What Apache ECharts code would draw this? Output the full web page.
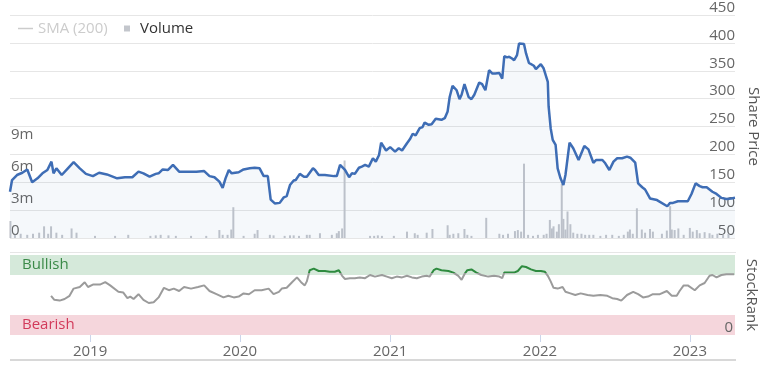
<!DOCTYPE html>
<html><head><meta charset="utf-8">
<script src="https://cdn.jsdelivr.net/npm/echarts@6/dist/echarts.min.js"></script>
<style>html,body{margin:0;padding:0;background:#fff}#c{width:762px;height:370px}</style>
</head><body><div id="c"></div>
<script>
// ---- Share price (top panel, right axis) ----
const priceDates = ['2018-06-20','2018-06-25','2018-07-07','2018-07-20','2018-08-01','2018-08-13','2018-08-26','2018-09-07','2018-09-19','2018-09-29','2018-10-04','2018-10-11','2018-10-24','2018-11-08','2018-11-22','2018-12-07','2018-12-22',
'2019-01-08','2019-01-23','2019-02-11','2019-03-08','2019-03-27','2019-04-14','2019-04-29','2019-05-11','2019-05-26','2019-06-10','2019-06-17','2019-06-27','2019-07-10','2019-07-22','2019-08-06','2019-08-23','2019-09-17','2019-10-06','2019-10-19','2019-10-31','2019-11-12','2019-11-20','2019-11-27','2019-12-05','2019-12-12','2019-12-29',
'2020-01-10','2020-01-25','2020-02-06','2020-02-18','2020-02-28','2020-03-09','2020-03-16','2020-03-26','2020-04-07','2020-04-17','2020-04-24','2020-05-02','2020-05-11','2020-05-16','2020-05-26','2020-06-05','2020-06-12','2020-06-27','2020-07-02','2020-07-11','2020-07-26','2020-08-17','2020-08-24','2020-09-01','2020-09-13','2020-09-23','2020-09-30','2020-10-07','2020-10-17','2020-10-24','2020-11-01','2020-11-10','2020-11-20','2020-11-27','2020-12-05','2020-12-10','2020-12-22',
'2021-01-01','2021-01-13','2021-01-22','2021-01-30','2021-02-11','2021-02-18','2021-02-25','2021-03-04','2021-03-14','2021-03-21','2021-03-26','2021-04-05','2021-04-12','2021-04-22','2021-05-06','2021-05-14','2021-05-21','2021-05-26','2021-06-02','2021-06-12','2021-06-19','2021-06-24','2021-07-01','2021-07-11','2021-07-18','2021-07-25','2021-08-06','2021-08-13','2021-08-21','2021-08-30','2021-09-07','2021-09-14','2021-09-24','2021-10-01','2021-10-06','2021-10-13','2021-10-18','2021-10-25','2021-10-30','2021-11-06','2021-11-11','2021-11-23','2021-11-28','2021-12-05','2021-12-17','2021-12-22',
'2022-01-03','2022-01-10','2022-01-20','2022-01-22','2022-01-27','2022-02-01','2022-02-08','2022-02-13','2022-02-20','2022-02-27','2022-03-04','2022-03-14','2022-03-23','2022-04-05','2022-04-19','2022-04-29','2022-05-11','2022-05-18','2022-06-02','2022-06-09','2022-06-19','2022-06-29','2022-07-08','2022-07-20','2022-08-01','2022-08-09','2022-08-21','2022-08-28','2022-09-07','2022-09-14','2022-09-26','2022-10-13','2022-11-07','2022-11-14','2022-11-21','2022-12-03','2022-12-27',
'2023-01-05','2023-01-15','2023-01-25','2023-02-01','2023-02-11','2023-02-25','2023-03-07','2023-03-19','2023-03-31','2023-04-12','2023-04-21'];
const priceValues = [133,154,163,167,173,150,157,166,172,187,166,175,163,175,186,175,165,
161,167,164,157,159,159,169,166,160,165,166,173,172,181,169,169,169,170,161,159,151,140,157,172,166,168,
173,175,176,175,161,161,119,112,113,123,125,145,153,154,165,160,160,175,172,163,163,161,161,181,172,159,166,165,176,178,181,178,193,187,199,221,207,
213,205,211,207,220,227,237,234,247,249,257,253,254,264,262,265,277,303,323,315,299,307,326,303,299,307,329,326,315,351,345,345,346,336,376,374,375,372,369,378,399,398,381,364,359,353,
362,354,330,286,247,226,217,175,157,145,163,221,211,190,215,209,185,190,190,184,172,187,193,193,196,194,185,148,141,137,121,118,107,113,113,116,116,
129,148,143,141,141,133,129,122,120,121,122];

// ---- Volume (top panel, left axis, millions) ----
const volumeDates = ['2018-06-21','2018-07-02','2018-07-16','2018-08-01','2018-08-15','2018-08-30','2018-09-11','2018-09-21','2018-09-28','2018-10-11','2018-10-25','2018-11-17','2018-11-29',
'2019-01-13','2019-03-03','2019-04-04','2019-05-28','2019-06-10','2019-06-22','2019-07-11','2019-07-29','2019-09-04','2019-10-11','2019-11-12','2019-11-20','2019-12-02','2019-12-11','2019-12-16',
'2020-01-10','2020-02-06','2020-02-13','2020-03-14','2020-03-23','2020-04-19','2020-05-02','2020-05-11','2020-05-24','2020-06-12','2020-06-19','2020-07-14','2020-08-12','2020-08-24','2020-08-29','2020-09-06','2020-09-12','2020-11-13','2020-11-23','2020-12-02','2020-12-12',
'2021-01-10','2021-02-11','2021-03-02','2021-03-09','2021-03-31','2021-04-14','2021-05-21','2021-05-26','2021-06-04','2021-06-16','2021-07-01','2021-07-08','2021-07-18','2021-08-23','2021-09-24','2021-10-03','2021-10-15','2021-11-01','2021-11-08','2021-11-16','2021-11-23','2021-12-03','2021-12-15','2021-12-27',
'2022-01-10','2022-01-17','2022-01-25','2022-01-30','2022-02-03','2022-02-11','2022-02-16','2022-02-23','2022-02-27','2022-03-04','2022-03-09','2022-03-16','2022-03-23','2022-04-02','2022-04-12','2022-04-21','2022-05-01','2022-05-11','2022-05-28','2022-06-11','2022-06-26','2022-07-12','2022-07-24','2022-08-03','2022-08-08','2022-08-15','2022-08-25','2022-09-06','2022-09-14','2022-09-26','2022-10-03','2022-10-25','2022-11-06','2022-11-14','2022-11-18','2022-11-25','2022-12-04','2022-12-17',
'2023-01-01','2023-01-08','2023-01-18','2023-01-25','2023-02-06','2023-02-18','2023-02-25','2023-03-09','2023-03-23','2023-04-05'];
const volumeValues = [1.6,0.3,0.4,0.3,0.4,0.5,1.1,0.4,1.1,0.5,0.3,0.9,0.5,
0.2,0.2,0.3,0.2,0.25,0.3,0.25,0.2,0.2,0.2,0.75,0.3,0.3,0.8,2.9,
0.2,0.4,0.75,0.3,0.25,0.2,0.25,0.25,0.2,0.3,0.3,0.45,0.3,0.45,0.65,0.9,7.3,0.2,0.2,0.25,0.2,
0.2,0.6,0.45,0.3,0.5,0.85,1.2,0.3,0.4,0.45,0.85,0.3,0.2,1.9,0.4,0.3,0.4,0.65,0.75,0.6,7.0,0.3,0.2,0.3,
0.3,0.4,1.7,0.9,1.1,0.6,1.3,5.1,1.8,0.8,2.5,1.3,0.5,0.4,0.4,0.3,0.3,0.3,0.2,0.3,0.3,0.2,0.3,0.6,0.8,0.4,2.8,0.8,0.5,0.85,0.6,0.4,0.7,3.0,0.8,0.75,0.9,0.3,
0.95,0.6,0.75,0.45,0.55,0.45,0.3,0.4,0.3,0.4];

// ---- StockRank (bottom panel) ----
const rankDates = ['2018-09-28','2018-10-06','2018-10-19','2018-10-31','2018-11-12','2018-11-22','2018-12-07','2018-12-19','2018-12-27',
'2019-01-08','2019-01-25','2019-02-07','2019-02-19','2019-03-11','2019-03-23','2019-04-02','2019-04-09','2019-04-17','2019-04-29','2019-05-11','2019-05-24','2019-06-05','2019-06-17','2019-06-30','2019-07-12','2019-07-24','2019-08-06','2019-08-18','2019-09-04','2019-09-21','2019-10-06','2019-10-19','2019-11-05','2019-11-22','2019-12-04','2019-12-17','2019-12-29',
'2020-01-10','2020-01-23','2020-02-06','2020-02-23','2020-03-11','2020-03-23','2020-04-05','2020-04-12','2020-04-24','2020-05-07','2020-05-19','2020-05-29','2020-06-07','2020-06-12','2020-06-19','2020-06-29','2020-07-11','2020-07-26','2020-08-07','2020-08-19','2020-08-29','2020-09-06','2020-09-13','2020-09-25','2020-10-07','2020-10-19','2020-11-01','2020-11-13','2020-11-25','2020-12-12','2020-12-24',
'2021-01-05','2021-01-17','2021-01-30','2021-02-11','2021-02-23','2021-03-07','2021-03-19','2021-03-31','2021-04-07','2021-04-17','2021-04-24','2021-05-06','2021-05-23','2021-06-04','2021-06-16','2021-06-24','2021-07-01','2021-07-08','2021-07-18','2021-07-30','2021-08-11','2021-08-28','2021-09-11','2021-09-24','2021-10-01','2021-10-06','2021-10-18','2021-10-30','2021-11-08','2021-11-18','2021-11-28','2021-12-10','2021-12-22',
'2022-01-03','2022-01-13','2022-01-20','2022-01-27','2022-02-03','2022-02-13','2022-02-25','2022-03-04','2022-03-16','2022-03-28','2022-04-10','2022-04-27','2022-05-11','2022-05-28','2022-06-14','2022-06-26','2022-07-08','2022-07-18','2022-08-01','2022-08-16','2022-08-28','2022-09-09','2022-09-21','2022-10-03','2022-10-20','2022-11-06','2022-11-18','2022-11-30','2022-12-07','2022-12-17','2022-12-27',
'2023-01-13','2023-01-25','2023-02-06','2023-02-18','2023-02-25','2023-03-07','2023-03-19','2023-03-31','2023-04-12','2023-04-19'];
const rankValues = [49,44,43,45,49,58,60,66,60,
63,63,66,62,54,53,46,48,45,51,44,40,41,47,59,56,58,55,60,58,60,62,55,51,47,49,47,48,
52,51,56,56,58,51,54,58,59,66,72,66,62,67,81,83,80,80,79,79,81,74,70,71,71,72,71,75,73,75,73,
71,73,72,74,72,71,73,74,73,81,83,81,80,78,74,69,76,81,82,78,75,73,74,73,71,78,78,78,80,86,85,82,80,
80,79,74,67,59,58,60,54,52,50,52,50,49,50,49,46,45,43,50,54,51,47,48,51,51,55,49,49,55,62,62,
56,62,65,74,75,72,75,76,76,76];

const yearTicks = [2019, 2020, 2021, 2022, 2023];
const bands = [
  {name: 'Bullish', from: 75, to: 100, fill: '#d5e9da', text: '#3b8a48'},
  {name: 'Bearish', from: 0, to: 25, fill: '#f5d6dc', text: '#d23a5a'}
];

const FONT = 'Open Sans';
const X_MIN = '2018-06-20', X_MAX = '2023-04-21';
const ts = s => { const p = s.split('-').map(Number); return new Date(p[0], p[1] - 1, p[2]).getTime(); };
const zip = (a, b) => a.map((d, i) => [ts(d), b[i]]);
const yearTickValues = yearTicks.map(y => new Date(y, 0, 1).getTime());

const chart = echarts.init(document.getElementById('c'));
chart.setOption({
  animation: false,
  textStyle: {fontFamily: FONT},
  legend: [
    {data: [{name: 'SMA (200)', icon: 'path://M0,0 H15 V1.5 H0 Z'}], left: 18, top: 21, padding: 0, itemWidth: 15, itemHeight: 10,
     selected: {'SMA (200)': false}, inactiveColor: '#cccccc',
     textStyle: {fontFamily: FONT, fontSize: 15, color: '#333'}},
    {data: [{name: 'Volume', icon: 'rect'}], left: 124, top: 21, padding: 0, itemWidth: 6, itemHeight: 6,
     textStyle: {fontFamily: FONT, fontSize: 15, color: '#333', padding: [0, 0, 0, 5]}}
  ],
  grid: [
    {left: 10, right: 27, top: 15, height: 223, outerBoundsMode: 'none'},
    {left: 10, right: 27, top: 255, height: 80, outerBoundsMode: 'none'}
  ],
  xAxis: [
    {type: 'value', gridIndex: 0, min: ts(X_MIN), max: ts(X_MAX), show: false, splitLine: {show: false}},
    {type: 'value', gridIndex: 1, min: ts(X_MIN), max: ts(X_MAX),
     axisLine: {show: false}, splitLine: {show: false},
     axisTick: {show: true, length: 7, customValues: yearTickValues, lineStyle: {color: '#ccd6eb'}},
     axisLabel: {customValues: yearTickValues, formatter: v => String(new Date(v).getFullYear()),
                 fontFamily: FONT, fontSize: 15, color: '#666', margin: 9}}
  ],
  yAxis: [
    {type: 'value', gridIndex: 0, position: 'right', min: 50, max: 450, interval: 50,
     axisLine: {show: false}, axisTick: {show: false},
     splitLine: {show: true, lineStyle: {color: '#e6e6e6', width: 1}},
     axisLabel: {inside: true, margin: 0, verticalAlign: 'bottom', color: '#666', fontFamily: FONT, fontSize: 15,
                 showMinLabel: true, showMaxLabel: true},
     name: 'Share Price', nameLocation: 'middle', nameRotate: -90, nameGap: 6,
     nameTextStyle: {fontFamily: FONT, fontSize: 15, color: '#555'}},
    {type: 'value', gridIndex: 0, position: 'left', min: 0, max: 21, interval: 3,
     axisLine: {show: false}, axisTick: {show: false}, splitLine: {show: false},
     axisLabel: {inside: true, margin: 1, verticalAlign: 'bottom', color: '#666', fontFamily: FONT, fontSize: 15,
                 formatter: v => v === 0 ? '0' : (v <= 9 ? v + 'm' : '')}},
    {type: 'value', gridIndex: 1, position: 'right', min: 0, max: 100, z: 10,
     axisLine: {show: false}, axisTick: {show: false}, splitLine: {show: false},
     axisLabel: {inside: true, margin: 2, verticalAlign: 'bottom', color: '#666', fontFamily: FONT, fontSize: 15,
                 showMinLabel: true, formatter: v => v === 0 ? '0' : ''},
     name: 'StockRank', nameLocation: 'middle', nameRotate: -90, nameGap: 6,
     nameTextStyle: {fontFamily: FONT, fontSize: 15, color: '#555'}}
  ],
  visualMap: {type: 'piecewise', show: false, seriesIndex: 3, dimension: 1,
    pieces: [{min: 77, max: 100, color: '#2e8b3f'}, {min: 0, max: 77, color: '#9b9b9b'}]},
  graphic: [
    {type: 'rect', silent: true, shape: {x: 10, y: 252, width: 726, height: 1}, style: {fill: '#e6e6e6'}},
    {type: 'rect', silent: true, shape: {x: 10, y: 359, width: 726, height: 2}, style: {fill: '#d8d8d8'}}
  ],
  series: [
    {name: 'SMA (200)', type: 'line', xAxisIndex: 0, yAxisIndex: 0, data: [], symbol: 'none',
     itemStyle: {color: '#cccccc'}, lineStyle: {color: '#cccccc', width: 1.5}},
    {name: 'Volume', type: 'bar', xAxisIndex: 0, yAxisIndex: 1, data: zip(volumeDates, volumeValues),
     barWidth: 2, itemStyle: {color: '#c3c6cc'}, z: 2},
    {name: 'Share Price', type: 'line', xAxisIndex: 0, yAxisIndex: 0, data: zip(priceDates, priceValues),
     symbol: 'none', lineStyle: {color: '#3e6db5', width: 2.5}, itemStyle: {color: '#3e6db5'},
     areaStyle: {color: 'rgba(62,109,181,0.07)'}, z: 3},
    {name: 'StockRank', type: 'line', xAxisIndex: 1, yAxisIndex: 2, data: zip(rankDates, rankValues),
     symbol: 'none', lineStyle: {width: 2}, z: 3,
     markArea: {silent: true, z: 1,
       data: bands.map(b => [
         {name: b.name, yAxis: b.from, itemStyle: {color: b.fill},
          label: {show: true, position: 'insideLeft', distance: 12, color: b.text, fontFamily: FONT, fontSize: 15}},
         {yAxis: b.to}
       ])}}
  ]
});
</script></body></html>
